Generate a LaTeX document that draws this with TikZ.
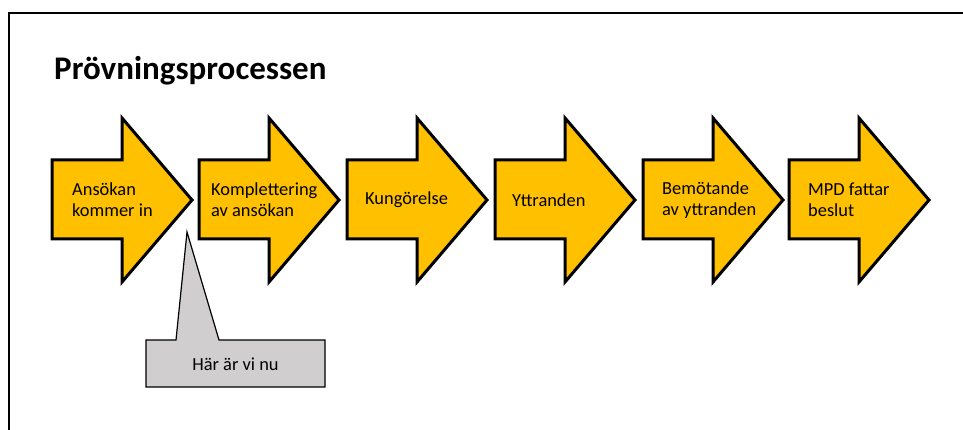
\documentclass[tikz,border=0pt]{standalone}
\usepackage{fontspec}
\setmainfont{Carlito}
\definecolor{stepgold}{HTML}{FFC000}
\definecolor{callgray}{HTML}{D0CECE}

\begin{document}
\begin{tikzpicture}[x=1pt, y=-1pt,
  steparrow/.style={draw=black, line width=3pt, fill=stepgold},
  steptext/.style={anchor=west, align=left, inner sep=0pt, font=\fontsize{18.4}{20.7}\selectfont}]
\useasboundingbox (0,0) rectangle (963,430);
%frame
\draw[line width=2pt] (966,13) -- (8.5,13) -- (8.5,433);
%title
\node[anchor=base west, inner sep=0pt, font=\fontsize{33}{37}\selectfont\bfseries] (title) at (54,80) {Prövningsprocessen};
%arrows
\foreach \x in {52, 199, 347, 495, 643, 789} \draw[steparrow] (\x,160) -- ++(70,0) -- ++(0,-42) -- ++(70,82) -- ++(-70,82) -- ++(0,-43) -- ++(-70,0) -- cycle;
%labels
\node[steptext] (apply) at (72,200) {Ansökan\\kommer in};
\node[steptext] (complete) at (211,200) {Komplettering\\av ansökan};
\node[steptext] (announce) at (365,200) {Kungörelse};
\node[steptext] (opinions) at (512,200) {Yttranden};
\node[steptext] (reply) at (662,200) {Bemötande\\av yttranden};
\node[steptext] (decision) at (808,200) {MPD fattar\\beslut};
%callout
\draw[fill=callgray, line width=1.2pt] (146,340) -- (176,340) -- (187,232) -- (219,340) -- (325,340) -- (325,387) -- (146,387) -- cycle;
\node[font=\fontsize{18.4}{20.7}\selectfont] (here) at (235.5,364) {Här är vi nu};
\end{tikzpicture}
\end{document}
